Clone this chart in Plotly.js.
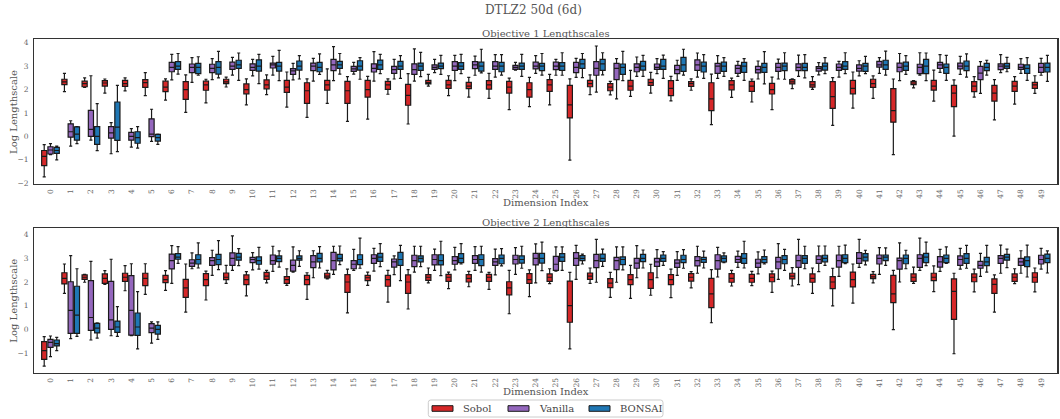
<!DOCTYPE html>
<html>
<head>
<meta charset="utf-8">
<script src="https://cdn.plot.ly/plotly-3.0.1.min.js"></script>
<style>
  html, body { margin: 0; padding: 0; background: #ffffff; }
  #chart { width: 1060px; height: 419px; }
</style>
</head>
<body>
<div id="chart"></div>
<script>
// Dimension indices (categories) and their tick labels
const dims = [0,1,2,3,4,5,6,7,8,9,10,11,12,13,14,15,16,17,18,19,20,21,22,23,24,25,26,27,28,29,30,31,32,33,34,35,36,37,38,39,40,41,42,43,44,45,46,47,48,49];
const dimLabels = ['0','1','2','3','4','5','6','7','8','9','10','11','12','13','14','15','16','17','18','19','20','21','22','23','24','25','26','27','28','29','30','31','32','33','34','35','36','37','38','39','40','41','42','43','44','45','46','47','48','49'];
const seriesNames = ['Sobol', 'Vanilla', 'BONSAI'];

// ---- Objective 1: log lengthscale box statistics per dimension ----
const o1SobolHi  = [-0.35,2.69,2.5,2.45,2.5,2.72,2.46,2.63,2.44,2.53, 2.46,2.63,2.75,2.46,2.88,2.55,2.56,2.46,2.68,2.65, 2.59,2.52,2.69,2.49,2.52,2.65,2.46,2.63,2.35,2.82, 2.73,2.56,2.46,2.66,2.49,2.45,2.53,2.46,2.55,2.51, 2.75,2.58,2.45,2.38,2.83,2.41,2.55,2.42,2.55,2.59];
const o1SobolQ3  = [-0.6,2.44,2.36,2.38,2.39,2.42,2.36,2.34,2.36,2.44, 2.24,2.41,2.39,2.29,2.39,2.35,2.39,2.35,2.22,2.39, 2.39,2.31,2.38,2.35,2.29,2.42,2.18,2.39,2.25,2.39, 2.44,2.38,2.34,2.29,2.38,2.35,2.26,2.42,2.34,2.34, 2.39,2.44,2.04,2.35,2.39,2.18,2.34,2.18,2.35,2.31];
const o1SobolMed = [-0.85,2.33,2.25,2.28,2.25,2.3,2.1,2.0,2.2,2.33, 2.0,2.2,2.1,1.95,2.2,1.95,2.0,2.2,1.75,2.3, 2.2,2.15,2.2,2.1,2.0,2.2,1.35,2.25,2.1,2.15, 2.3,2.05,2.25,1.6,2.2,2.15,2.0,2.33,2.2,1.7, 2.05,2.25,1.1,2.28,2.15,1.85,2.15,1.85,2.15,2.2];
const o1SobolQ1  = [-1.25,2.21,2.12,2.15,2.14,2.09,1.91,1.58,1.97,2.25, 1.82,2.03,1.88,1.41,1.98,1.41,1.68,2.01,1.33,2.24, 2.05,2.04,2.02,1.85,1.68,1.92,0.79,2.12,1.95,1.97, 2.18,1.74,2.14,1.1,1.99,1.92,1.81,2.24,2.1,1.2, 1.82,2.09,0.61,2.21,1.98,1.27,1.91,1.51,1.92,2.05];
const o1SobolLo  = [-1.73,1.91,2.09,1.85,1.94,1.74,1.55,1.03,1.43,2.11, 1.35,1.78,1.25,0.81,1.41,0.64,0.74,1.8,0.53,2.15, 1.74,1.68,1.62,1.14,1.27,1.35,-1.01,1.78,1.77,1.71, 1.85,1.52,1.97,0.5,1.67,1.47,1.14,2.04,2.01,0.47, 1.21,1.62,-0.78,2.07,1.51,0.01,1.68,0.71,1.38,1.84];

const o1VanillaHi  = [-0.31,0.67,2.59,0.59,0.33,1.16,3.5,3.36,3.32,3.37, 3.29,3.42,3.12,3.33,3.83,3.16,3.62,3.29,3.74,3.29, 3.46,3.43,3.49,3.16,3.45,3.29,3.33,3.86,3.32,3.39, 3.32,3.25,3.56,3.45,3.2,3.22,3.3,3.47,3.15,3.2, 3.23,3.36,3.54,3.57,3.49,3.42,3.19,3.49,3.32,3.33];
const o1VanillaQ3  = [-0.44,0.54,1.11,0.42,0.17,0.75,3.16,3.09,3.08,3.17, 3.1,3.13,2.89,3.13,3.29,2.99,3.1,2.99,3.1,3.05, 3.19,3.19,3.19,3.03,3.17,3.17,3.16,3.19,3.12,3.1, 3.09,3.03,3.27,3.12,3.03,2.99,3.12,3.1,2.98,3.09, 3.05,3.2,3.13,3.08,3.16,3.13,2.99,3.1,3.08,3.12];
const o1VanillaMed = [-0.58,0.2,0.3,0.15,0.0,0.1,2.95,2.95,2.9,3.0, 2.95,3.05,2.8,3.0,3.05,2.88,2.9,2.85,2.85,2.95, 3.0,3.05,3.0,2.95,3.0,3.0,2.95,2.9,2.9,2.95, 2.95,2.85,3.05,3.0,2.9,2.85,2.95,2.95,2.9,2.95, 2.9,3.05,2.95,2.95,3.05,3.0,2.7,3.0,2.95,2.95];
const o1VanillaQ1  = [-0.75,-0.03,0.0,-0.07,-0.16,-0.01,2.76,2.72,2.72,2.86, 2.82,2.92,2.65,2.81,2.81,2.78,2.75,2.69,2.65,2.86, 2.82,2.89,2.86,2.86,2.88,2.85,2.72,2.61,2.42,2.76, 2.86,2.68,2.82,2.69,2.69,2.71,2.78,2.81,2.79,2.82, 2.79,2.96,2.76,2.68,2.9,2.88,2.42,2.85,2.86,2.73];
const o1VanillaLo  = [-0.78,-0.41,-0.16,-0.74,-0.46,-0.21,2.41,2.31,2.42,2.62, 2.58,2.62,2.41,2.36,2.38,2.66,2.36,2.45,2.36,2.72, 2.38,2.61,2.53,2.83,2.69,2.61,2.52,1.89,1.6,2.56, 2.68,2.39,2.53,2.48,2.56,2.45,2.45,2.56,2.63,2.53, 2.58,2.69,2.38,2.62,2.73,2.65,1.84,2.72,2.69,2.61];

const o1BonsaiHi  = [-0.41,0.42,1.4,2.18,0.42,0.1,3.54,3.4,3.63,3.56, 3.5,3.67,3.45,3.52,3.54,3.36,3.5,3.45,3.59,3.46, 3.5,3.72,3.49,3.5,3.54,3.57,3.54,3.57,3.63,3.46, 3.47,3.72,3.49,3.36,3.32,3.62,3.57,3.49,3.36,3.57, 3.42,3.64,3.45,3.56,3.46,3.52,3.25,3.37,3.36,3.46];
const o1BonsaiQ3  = [-0.47,0.41,0.42,1.47,0.2,0.09,3.19,3.12,3.19,3.25, 3.27,3.16,3.22,3.16,3.2,3.23,3.26,3.2,3.13,3.13, 3.15,3.17,3.16,3.13,3.12,3.15,3.29,3.29,3.09,3.2, 3.29,3.37,3.17,3.17,3.16,3.12,3.13,3.12,3.13,3.19, 3.12,3.25,3.17,3.29,3.09,3.22,3.12,3.12,3.05,3.13];
const o1BonsaiMed = [-0.6,0.1,0.0,0.4,-0.05,-0.05,3.0,2.95,2.95,3.05, 3.0,3.0,3.0,2.95,3.05,3.0,3.05,3.0,3.0,3.0, 3.0,3.0,3.0,3.0,3.0,3.0,3.1,3.1,2.95,3.0, 3.0,3.05,3.0,3.0,3.0,2.95,3.0,2.95,3.0,3.0, 3.0,3.05,3.0,3.0,2.95,3.0,2.95,3.0,2.9,2.95];
const o1BonsaiQ1  = [-0.72,-0.16,-0.34,-0.17,-0.29,-0.2,2.86,2.68,2.66,2.9, 2.79,2.79,2.83,2.76,2.9,2.83,2.86,2.86,2.82,2.89, 2.86,2.79,2.76,2.86,2.81,2.82,2.9,2.82,2.65,2.83, 2.86,2.78,2.75,2.78,2.73,2.73,2.81,2.81,2.83,2.86, 2.78,2.86,2.82,2.68,2.69,2.81,2.81,2.9,2.69,2.75];
const o1BonsaiLo  = [-1.0,-0.31,-0.61,-0.65,-0.5,-0.34,2.66,2.61,2.5,2.39, 2.25,2.38,2.45,2.65,2.66,2.44,2.68,2.48,2.55,2.65, 2.68,2.71,2.62,2.56,2.62,2.61,2.51,2.63,2.38,2.56, 2.48,2.62,2.48,2.56,2.39,2.24,2.44,2.5,2.68,2.68, 2.68,2.62,2.65,2.38,2.39,2.53,2.62,2.76,2.39,2.35];

// ---- Objective 2: log lengthscale box statistics per dimension ----
const o2SobolHi  = [-0.31,2.76,2.32,2.48,2.69,2.77,2.48,2.76,2.46,2.7, 2.44,2.49,2.55,2.39,2.49,2.54,2.42,2.49,2.52,2.59, 2.42,2.45,2.41,2.49,2.51,2.56,2.41,2.59,2.41,2.7, 2.75,2.54,2.44,2.52,2.49,2.45,2.46,2.61,2.59,2.58, 2.76,2.44,2.49,2.63,2.68,2.37,2.54,2.3,2.56,2.59];
const o2SobolQ3  = [-0.52,2.39,2.3,2.34,2.37,2.37,2.28,2.11,2.35,2.38, 2.3,2.41,2.23,2.28,2.37,2.31,2.28,2.28,2.3,2.31, 2.32,2.31,2.32,2.01,2.35,2.34,2.04,2.38,2.14,2.31, 2.39,2.31,2.35,2.15,2.35,2.32,2.34,2.37,2.34,2.23, 2.42,2.32,2.28,2.34,2.37,2.13,2.34,2.13,2.34,2.39];
const o2SobolMed = [-0.9,2.15,2.2,2.15,2.2,2.15,2.1,1.75,2.1,2.2, 2.1,2.25,2.1,2.1,2.25,2.0,2.18,2.1,2.0,2.2, 2.2,2.15,2.2,1.75,2.1,2.2,1.0,2.25,1.95,2.1, 2.1,2.1,2.2,1.5,2.15,2.15,2.2,2.25,2.15,2.0, 2.1,2.22,1.5,2.2,2.2,1.6,2.2,1.9,2.2,2.2];
const o2SobolQ1  = [-1.27,1.92,2.11,1.94,2.03,1.85,1.97,1.35,1.85,2.1, 1.89,2.11,1.94,1.89,2.17,1.56,2.06,1.82,1.52,2.07, 2.03,2.0,2.03,1.46,1.94,2.03,0.3,2.11,1.76,1.89, 1.73,1.89,2.04,0.92,1.99,1.99,2.01,2.13,1.99,1.72, 1.79,2.14,1.13,2.03,2.06,0.42,2.01,1.52,2.03,1.99];
const o2SobolLo  = [-1.55,1.52,1.99,1.9,1.63,1.48,1.65,0.73,1.24,1.94, 1.41,1.96,1.86,1.27,2.13,0.7,1.86,1.15,0.86,1.96, 1.72,1.8,1.69,0.66,1.38,1.93,-0.82,1.94,1.35,1.31, 1.44,1.34,1.75,0.28,1.83,1.85,1.56,1.83,1.52,0.99, 1.11,1.96,-0.01,1.94,1.59,-1.03,1.58,0.73,1.93,1.58];

const o2VanillaHi  = [-0.28,3.11,2.87,2.96,2.77,0.32,3.54,3.23,3.34,3.95, 3.24,3.51,3.48,3.32,3.51,3.38,3.42,3.1,3.51,3.39, 3.46,3.49,3.39,3.45,3.61,3.48,3.55,3.8,3.48,3.54, 3.37,3.28,3.51,3.46,3.3,3.27,3.62,3.8,3.52,3.51, 3.8,3.45,3.65,3.85,3.38,3.42,3.21,3.56,3.32,3.42];
const o2VanillaQ3  = [-0.42,2.01,2.06,2.03,2.27,0.24,3.18,2.94,3.03,3.23, 3.04,3.14,2.92,3.11,3.25,2.9,3.15,2.97,3.13,3.15, 3.07,3.11,2.99,3.13,3.21,3.08,3.24,3.17,3.04,3.0, 3.0,2.93,3.07,3.15,3.08,2.96,3.04,3.13,3.1,3.14, 3.24,3.14,3.01,3.15,3.07,3.1,2.87,3.11,3.0,3.13];
const o2VanillaMed = [-0.55,0.8,0.5,0.4,0.8,0.05,2.9,2.8,2.9,3.0, 2.95,2.9,2.7,2.85,2.9,2.75,3.0,2.85,2.9,2.95, 2.9,2.95,2.85,2.95,3.0,2.75,3.0,2.9,2.9,2.8, 2.85,2.8,2.9,2.9,2.95,2.8,2.85,2.9,2.95,2.9, 3.0,3.0,2.9,3.0,2.85,2.95,2.7,3.0,2.85,2.95];
const o2VanillaQ1  = [-0.76,-0.17,-0.04,0.0,-0.24,-0.14,2.55,2.66,2.7,2.7, 2.82,2.75,2.46,2.61,2.51,2.56,2.79,2.63,2.65,2.72, 2.75,2.79,2.7,2.76,2.72,2.49,2.7,2.61,2.52,2.58, 2.66,2.62,2.68,2.54,2.83,2.62,2.56,2.62,2.79,2.63, 2.79,2.76,2.54,2.62,2.63,2.7,2.58,2.79,2.7,2.76];
const o2VanillaLo  = [-1.15,-0.39,-0.45,-0.27,-0.27,-0.58,1.94,2.56,2.28,2.49, 2.51,2.45,2.42,2.18,2.32,2.49,2.46,2.31,2.42,2.49, 2.51,2.49,2.3,2.32,1.96,2.46,2.11,1.99,1.99,2.18, 2.18,2.28,2.37,2.21,2.62,2.34,2.11,1.89,2.44,2.24, 2.62,2.32,2.0,2.49,2.45,2.54,2.24,2.37,2.37,2.54];

const o2BonsaiHi  = [-0.34,2.56,0.27,0.96,1.59,0.32,3.49,3.65,3.75,3.41, 3.46,3.31,3.32,3.49,3.52,3.85,3.62,3.55,3.51,3.72, 3.62,3.51,3.41,3.51,3.68,3.48,3.18,3.39,3.48,3.35, 3.28,3.37,3.3,3.23,3.72,3.35,3.38,3.51,3.52,3.56, 3.34,3.44,3.34,3.68,3.48,3.55,3.55,3.39,3.56,3.31];
const o2BonsaiQ3  = [-0.45,1.82,0.25,0.35,0.69,0.17,3.2,3.15,3.17,3.21, 3.06,3.1,3.1,3.21,3.17,3.15,3.21,3.25,3.1,3.15, 3.2,3.15,3.14,3.1,3.21,3.2,3.11,3.18,3.06,3.17, 3.14,3.13,3.04,3.1,3.2,3.07,3.11,3.11,3.13,3.15, 3.2,3.14,3.14,3.21,3.14,3.2,3.04,3.17,3.06,3.18];
const o2BonsaiMed = [-0.6,0.6,0.05,0.1,0.1,0.0,3.05,2.95,2.95,3.05, 2.9,3.0,3.0,3.0,3.0,2.95,3.05,2.95,3.0,2.9, 3.0,2.95,3.0,2.95,3.0,3.05,3.0,3.0,2.95,3.0, 3.0,2.95,2.95,3.0,3.0,2.95,2.95,3.0,3.0,3.0, 3.05,3.05,3.0,3.05,3.0,3.0,2.85,3.05,2.9,3.0];
const o2BonsaiQ1  = [-0.7,-0.17,-0.15,-0.13,-0.25,-0.2,2.96,2.76,2.73,2.92, 2.75,2.86,2.92,2.85,2.89,2.73,2.87,2.7,2.85,2.72, 2.82,2.69,2.77,2.8,2.8,2.87,2.9,2.87,2.73,2.86, 2.87,2.82,2.83,2.85,2.79,2.82,2.77,2.79,2.85,2.82, 2.89,2.9,2.77,2.82,2.82,2.79,2.69,2.92,2.65,2.82];
const o2BonsaiLo  = [-0.9,-0.3,-0.37,-0.3,-0.82,-0.42,2.79,2.59,2.52,2.69, 2.54,2.63,2.66,2.59,2.73,2.58,2.65,2.06,2.65,2.27, 2.76,2.42,2.68,2.58,2.48,2.49,2.76,2.66,2.51,2.59, 2.7,2.58,2.59,2.82,2.59,2.76,2.49,2.56,2.7,2.77, 2.72,2.7,2.56,2.69,2.79,2.58,2.42,2.61,2.21,2.38];

// ---- styling ----
const seriesColors = ['#d62728', '#9467bd', '#1f77b4'];
const W = 1060, H = 419;
const fx = p => p / W;          // pixel -> paper x
const fy = p => 1 - p / H;      // pixel -> paper y
const textGrey = '#555555';
const FONT = 'DejaVu Serif, Liberation Serif, serif';

function boxTrace(name, color, panel, xa, ya, lo, q1, med, q3, hi) {
  return {
    type: 'box', name: name, x: dims,
    lowerfence: lo, q1: q1, median: med, q3: q3, upperfence: hi,
    xaxis: xa, yaxis: ya,
    alignmentgroup: panel, offsetgroup: name,
    fillcolor: color,
    line: { color: '#1a1a1a', width: 1.2 },
    whiskerwidth: 0.6,
    boxpoints: false,
    showlegend: false,
    hoverinfo: 'skip'
  };
}

const data = [
  boxTrace(seriesNames[0], seriesColors[0], 'obj1', 'x', 'y', o1SobolLo, o1SobolQ1, o1SobolMed, o1SobolQ3, o1SobolHi),
  boxTrace(seriesNames[1], seriesColors[1], 'obj1', 'x', 'y', o1VanillaLo, o1VanillaQ1, o1VanillaMed, o1VanillaQ3, o1VanillaHi),
  boxTrace(seriesNames[2], seriesColors[2], 'obj1', 'x', 'y', o1BonsaiLo, o1BonsaiQ1, o1BonsaiMed, o1BonsaiQ3, o1BonsaiHi),
  boxTrace(seriesNames[0], seriesColors[0], 'obj2', 'x2', 'y2', o2SobolLo, o2SobolQ1, o2SobolMed, o2SobolQ3, o2SobolHi),
  boxTrace(seriesNames[1], seriesColors[1], 'obj2', 'x2', 'y2', o2VanillaLo, o2VanillaQ1, o2VanillaMed, o2VanillaQ3, o2VanillaHi),
  boxTrace(seriesNames[2], seriesColors[2], 'obj2', 'x2', 'y2', o2BonsaiLo, o2BonsaiQ1, o2BonsaiMed, o2BonsaiQ3, o2BonsaiHi)
];

// plot frames (pixels)
const plotLeft = 34.3, plotRight = 1057.3;
const top1 = 39.3, bot1 = 184.0;
const top2 = 228.0, bot2 = 372.7;

function xAxis(anchor) {
  return {
    domain: [fx(plotLeft), fx(plotRight)], anchor: anchor,
    range: [-0.8, 49.8],
    tickmode: 'array', tickvals: dims, ticktext: dimLabels, tickangle: -90,
    tickfont: { family: FONT, size: 7.5, color: '#666666' },
    ticks: '', ticklabelstandoff: 1,
    showline: true, mirror: true, linecolor: '#333333', linewidth: 1.2,
    showgrid: false, zeroline: false, fixedrange: true
  };
}
function yAxis(anchor, dom, rng) {
  return {
    domain: dom, anchor: anchor, range: rng,
    tickmode: 'linear', dtick: 1, tick0: 0,
    tickfont: { family: FONT, size: 7.5, color: '#666666' },
    ticks: '', ticklabelstandoff: 3,
    showline: true, mirror: true, linecolor: '#333333', linewidth: 1.2,
    showgrid: false, zeroline: false, fixedrange: true
  };
}

const annotations = [
  { text: 'DTLZ2 50d (6d)', x: fx(533), y: fy(10), font: { size: 12 } },
  { text: 'Objective 1 Lengthscales', x: fx((plotLeft + plotRight) / 2), y: fy(33.5), font: { size: 10 } },
  { text: 'Objective 2 Lengthscales', x: fx((plotLeft + plotRight) / 2), y: fy(222.2), font: { size: 10 } },
  { text: 'Dimension Index', x: fx((plotLeft + plotRight) / 2), y: fy(bot1 + 18.3), font: { size: 10 } },
  { text: 'Dimension Index', x: fx((plotLeft + plotRight) / 2), y: fy(bot2 + 18.3), font: { size: 10 } },
  { text: 'Log Lengthscale', x: fx(13.3), y: fy((top1 + bot1) / 2), textangle: -90, font: { size: 10 } },
  { text: 'Log Lengthscale', x: fx(13.3), y: fy((top2 + bot2) / 2), textangle: -90, font: { size: 10 } }
].map(a => Object.assign({
  xref: 'paper', yref: 'paper', showarrow: false,
  xanchor: 'center', yanchor: 'middle'
}, a, { font: Object.assign({ family: FONT, color: textGrey }, a.font) }));

// legend drawn below the lower panel
const shapes = [];
const legBox = { x0: 428.3, x1: 663, y0: 400, y1: 417, r: 2.5 };
(function () {
  const X = fx, Y = fy, r = legBox.r;
  const p = [
    'M', X(legBox.x0 + r), Y(legBox.y0),
    'L', X(legBox.x1 - r), Y(legBox.y0),
    'Q', X(legBox.x1), Y(legBox.y0), X(legBox.x1), Y(legBox.y0 + r),
    'L', X(legBox.x1), Y(legBox.y1 - r),
    'Q', X(legBox.x1), Y(legBox.y1), X(legBox.x1 - r), Y(legBox.y1),
    'L', X(legBox.x0 + r), Y(legBox.y1),
    'Q', X(legBox.x0), Y(legBox.y1), X(legBox.x0), Y(legBox.y1 - r),
    'L', X(legBox.x0), Y(legBox.y0 + r),
    'Q', X(legBox.x0), Y(legBox.y0), X(legBox.x0 + r), Y(legBox.y0), 'Z'
  ];
  let d = '';
  for (let i = 0; i < p.length; i++) d += (typeof p[i] === 'string' ? p[i] : p[i].toFixed(5) + (typeof p[i + 1] === 'number' ? ',' : ' '));
  shapes.push({ type: 'path', xref: 'paper', yref: 'paper', path: d,
    fillcolor: 'rgba(255,255,255,0.8)', line: { color: '#cccccc', width: 1 } });
})();
const legPatchX = [432, 508, 589];
seriesNames.forEach((nm, i) => {
  shapes.push({ type: 'rect', xref: 'paper', yref: 'paper',
    x0: fx(legPatchX[i]), x1: fx(legPatchX[i] + 21), y0: fy(411.3), y1: fy(405.7),
    fillcolor: seriesColors[i], line: { color: '#1a1a1a', width: 1 } });
  annotations.push({ text: nm, xref: 'paper', yref: 'paper', showarrow: false,
    x: fx(legPatchX[i] + 29), y: fy(408.5), xanchor: 'left', yanchor: 'middle',
    font: { family: FONT, size: 10, color: '#444444' } });
});

const layout = {
  width: W, height: H,
  margin: { l: 0, r: 0, t: 0, b: 0, pad: 0 },
  paper_bgcolor: '#ffffff', plot_bgcolor: '#ffffff',
  font: { family: FONT, color: textGrey },
  boxmode: 'group', boxgap: 0.07, boxgroupgap: 0.18,
  showlegend: false,
  xaxis: xAxis('y'),
  yaxis: yAxis('x', [fy(bot1), fy(top1)], [-2.03, 4.145]),
  xaxis2: xAxis('y2'),
  yaxis2: yAxis('x2', [fy(bot2), fy(top2)], [-1.83, 4.28]),
  annotations: annotations,
  shapes: shapes
};

Plotly.newPlot('chart', data, layout, { staticPlot: true, displayModeBar: false });
</script>
</body>
</html>
